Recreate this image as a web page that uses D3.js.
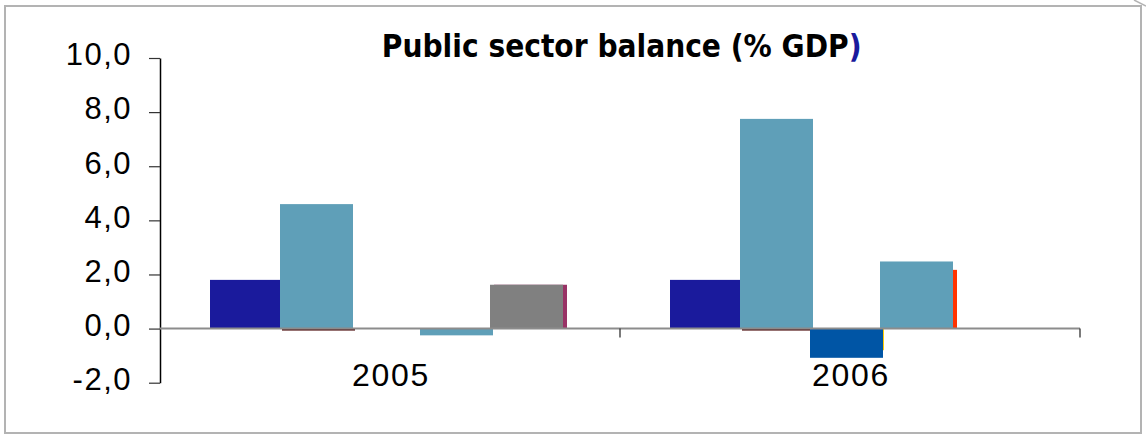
<!DOCTYPE html>
<html>
<head>
<meta charset="utf-8">
<script src="https://d3js.org/d3.v7.min.js"></script>
<style>
  body { margin: 0; background: #fff; }
</style>
</head>
<body>
<div id="chart"></div>
<script>
// data
var years = ["2005", "2006"];
var yTicks = [-2, 0, 2, 4, 6, 8, 10];

var darkBlue   = [1.8, 1.8];
var lightBlue1 = [4.6, 7.75];
var darkRed    = [0, 0];
var yellow     = [null, -0.8];
var blue       = [null, -1.08];
var lightBlue2 = [-0.25, 2.48];
var orange     = [null, 2.17];
var purple     = [1.62, null];
var gray       = [1.62, null];

// slot = position in the cluster, back = drawn behind (3-D depth)
var series = [
  {name: "darkRed",    values: darkRed,    slot: 1, back: true},
  {name: "yellow",     values: yellow,     slot: 2, back: true},
  {name: "orange",     values: orange,     slot: 3, back: true},
  {name: "purple",     values: purple,     slot: 4, back: true},
  {name: "darkBlue",   values: darkBlue,   slot: 0, back: false},
  {name: "lightBlue1", values: lightBlue1, slot: 1, back: false},
  {name: "blue",       values: blue,       slot: 2, back: false},
  {name: "lightBlue2", values: lightBlue2, slot: 3, back: false},
  {name: "gray",       values: gray,       slot: 4, back: false}
];

var style = {
  darkRed:    {color: "#4d1010", dx: 2},
  yellow:     {color: "#ffcc00", dx: 1},
  orange:     {color: "#ff3300", dx: 4},
  purple:     {color: "#993366", dx: 4},
  darkBlue:   {color: "#1a1a9c", dx: 0},
  lightBlue1: {color: "#5f9fb8", dx: 0},
  blue:       {color: "#0055a5", dx: 0},
  lightBlue2: {color: "#5f9fb8", dx: 0},
  gray:       {color: "#808080", dx: 0}
};

var sansFont = "'Liberation Sans', Arial, Helvetica, sans-serif";

var W = 1146, H = 437;
var svg = d3.select("#chart").append("svg")
    .attr("width", W)
    .attr("height", H);

// outer frame
svg.append("rect")
    .attr("x", 5).attr("y", 6)
    .attr("width", 1136).attr("height", 427)
    .attr("fill", "none")
    .attr("stroke", "#b3b3b3")
    .attr("stroke-width", 2);
svg.append("line")
    .attr("x1", 1134).attr("y1", 0).attr("x2", 1146).attr("y2", 6)
    .attr("stroke", "#b3b3b3").attr("stroke-width", 1.5);

var y = d3.scaleLinear().domain([-2, 10]).range([382.7, 58]);
var x = d3.scaleBand().domain(years).range([160, 1080]);
var slotX = d3.scaleBand().domain(d3.range(5)).range([50, 400]);
var barW = 73;

var bars = [];
series.forEach(function(s) {
  s.values.forEach(function(v, i) {
    if (v !== null) bars.push({name: s.name, year: years[i], value: v, slot: s.slot});
  });
});

svg.append("g").selectAll("rect")
  .data(bars)
  .enter()
  .append("rect")
    .attr("x", d => x(d.year) + slotX(d.slot) + style[d.name].dx)
    .attr("y", d => Math.min(y(d.value), y(0)))
    .attr("width", barW)
    .attr("height", d => Math.max(Math.abs(y(d.value) - y(0)), 2))
    .attr("fill", d => style[d.name].color);

// y axis
var fmt = d3.formatLocale({decimal: ",", thousands: ".", grouping: [3], currency: ["", ""], minus: "-"}).format(".1f");
var yAxis = svg.append("g")
    .attr("transform", "translate(160,0)")
    .call(d3.axisLeft(y).tickValues(yTicks).tickFormat(fmt).tickSize(11).tickPadding(17).tickSizeOuter(0));
yAxis.attr("font-family", null).attr("font-size", null);
yAxis.select(".domain").attr("stroke", "#000").attr("stroke-width", 1.5);
yAxis.selectAll(".tick line").attr("stroke", "#333").attr("stroke-width", 1.2);
yAxis.selectAll(".tick text")
    .attr("dy", "0.22em")
    .attr("fill", "#000")
    .style("font-family", sansFont)
    .style("font-size", "31px")
    .style("letter-spacing", "1.5px");

// zero line + category boundary ticks
svg.append("line")
    .attr("x1", x.range()[0]).attr("x2", x.range()[1])
    .attr("y1", y(0)).attr("y2", y(0))
    .attr("stroke", "#8c8c8c").attr("stroke-width", 2);
svg.append("g").selectAll("line")
  .data(years)
  .enter()
  .append("line")
    .attr("x1", d => x(d) + x.bandwidth())
    .attr("x2", d => x(d) + x.bandwidth())
    .attr("y1", y(0)).attr("y2", y(0) + 9)
    .attr("stroke", "#222").attr("stroke-width", 1.2);

svg.append("g").selectAll("text")
  .data(years)
  .enter()
  .append("text")
    .attr("x", d => x(d) + x.bandwidth() / 2 + 1)
    .attr("y", y(0) + 57.5)
    .attr("text-anchor", "middle")
    .style("font-family", sansFont)
    .style("font-size", "32px")
    .style("letter-spacing", "1.7px")
    .text(d => d);

// title, stretched to the width it has in the picture
var titleG = svg.append("g");
var title = titleG.append("text")
    .attr("x", 0)
    .attr("y", 0)
    .attr("text-anchor", "middle")
    .style("font-family", "'DejaVu Sans', Verdana, sans-serif")
    .style("font-weight", "bold")
    .style("font-size", "32px");
title.append("tspan").text("Public sector balance (% GDP");
title.append("tspan").attr("fill", "#1a1a9c").text(")");
var tw = title.node().getComputedTextLength();
titleG.attr("transform", "translate(621.7,56.7) scale(" + (480 / tw) + ",1)");
</script>
</body>
</html>
